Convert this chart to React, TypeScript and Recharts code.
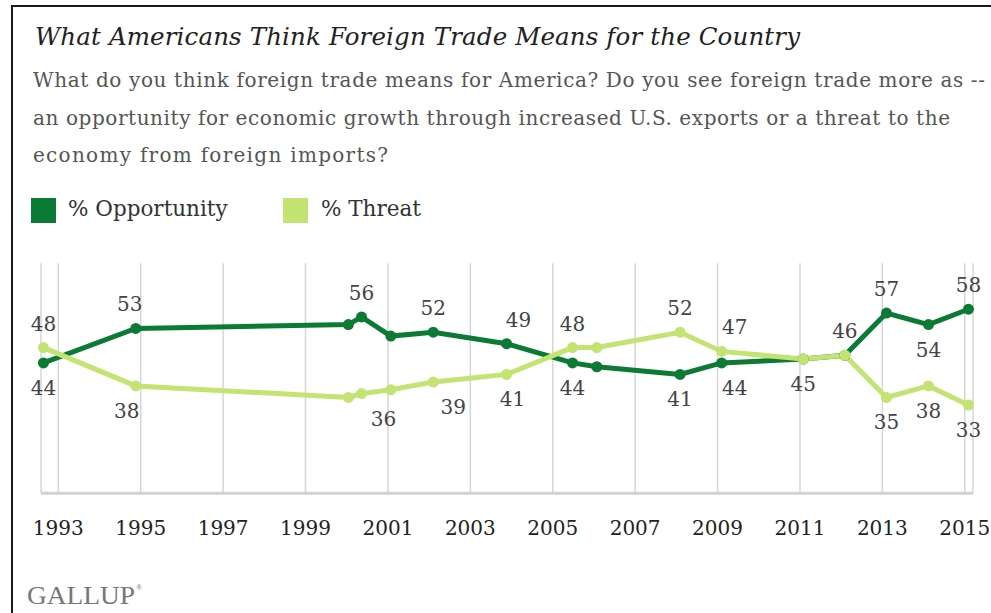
import React from 'react';
import { LineChart, Line, XAxis, YAxis, CartesianGrid, LabelList } from 'recharts';

// survey dates as fractional years
const pollDates = [1992.64, 1994.88, 2000.04, 2000.36, 2001.07, 2002.1, 2003.88, 2005.48, 2006.07, 2008.09, 2009.1, 2011.08, 2012.09, 2013.1, 2014.12, 2015.09];
const opportunity = [44, 53, 54, 56, 51, 52, 49, 44, 43, 41, 44, 45, 46, 57, 54, 58];
const threat = [48, 38, 35, 36, 37, 39, 41, 48, 48, 52, 47, 45, 46, 35, 38, 33];
const yearTicks = [1993, 1995, 1997, 1999, 2001, 2003, 2005, 2007, 2009, 2011, 2013, 2015];

const DARK = '#0b7a35';
const LIGHT = '#c3e373';
const SERIF = '"DejaVu Serif", serif';

// which points carry a value label, and on which side ('' = none)
const oppLabelSide = ['below', 'above', '', 'above', '', 'above', 'above', 'below', '', 'below', 'below', 'below', 'above', 'above', 'below', 'above'];
const threatLabelSide = ['above', 'below', '', 'below', '', 'below', 'below', 'above', '', 'above', 'above', '', '', 'below', 'below', 'below'];
// small sideways nudges for a few labels, keyed "series:index"
const labelNudge: Record<string, number> = {
  'o:1': -6, 't:1': -9, 't:3': 22, 't:5': 20, 't:6': 6, 'o:6': 12, 't:10': 13, 'o:10': 13,
};

const rows = pollDates.map((d, i) => ({ date: d, opportunity: opportunity[i], threat: threat[i] }));

const makeLabel = (sides: string[], key: string) => (p: any) => {
  const side = sides[p.index];
  if (!side) return null;
  const dx = labelNudge[`${key}:${p.index}`] || 0;
  const y = side === 'above' ? p.y - 17 : p.y + 32;
  return (
    <text x={p.x + dx} y={y} textAnchor="middle" fontFamily={SERIF} fontSize={20} fill="#444">
      {p.value}
    </text>
  );
};

const YearTick = (p: any) => (
  <text x={p.x} y={p.y + 42} textAnchor="middle" fontFamily={SERIF} fontSize={20} fill="#222">
    {p.payload.value}
  </text>
);

const subtitle = [
  'What do you think foreign trade means for America? Do you see foreign trade more as --',
  'an opportunity for economic growth through increased U.S. exports or a threat to the',
  'economy from foreign imports?',
];
const subtitleWidths = [952, 917, 355];

export default function App() {
  return (
    <div style={{ position: 'absolute', left: 0, top: 0, width: 991, height: 613, overflow: 'hidden', background: '#fff' }}>
      <svg width={991} height={613} style={{ position: 'absolute', left: 0, top: 0 }}>
        <path d="M12 613 V6 H991" fill="none" stroke="#1a1a1a" strokeWidth={2} />
        <text x={35} y={45} fontFamily={SERIF} fontStyle="italic" fontSize={24.5} fill="#222" textLength={765} lengthAdjust="spacing">
          What Americans Think Foreign Trade Means for the Country
        </text>
        {subtitle.map((line, i) => (
          <text key={i} x={33} y={87 + i * 37.5} fontFamily={SERIF} fontSize={20} fill="#555" textLength={subtitleWidths[i]} lengthAdjust="spacing">
            {line}
          </text>
        ))}
        <rect x={31} y={198} width={25} height={25} fill={DARK} />
        <text x={68} y={216} fontFamily={SERIF} fontSize={21.5} fill="#333">% Opportunity</text>
        <rect x={283} y={198} width={25} height={25} fill={LIGHT} />
        <text x={321} y={216} fontFamily={SERIF} fontSize={21.5} fill="#333">% Threat</text>
        <text x={27} y={604} fontFamily='"Liberation Serif", serif' fontSize={26} fill="#777" textLength={108} lengthAdjust="spacingAndGlyphs">
          GALLUP
        </text>
        <text x={136} y={590} fontFamily='"Liberation Serif", serif' fontSize={8} fill="#777">®</text>
      </svg>
      <div style={{ position: 'absolute', left: 0, top: 240 }}>
        <LineChart width={991} height={320} data={rows} margin={{ top: 23.2, right: 18, bottom: 26.7, left: 41 }}>
          <CartesianGrid horizontal={false} stroke="#d6d6d6" strokeWidth={1.5} />
          <XAxis
            dataKey="date"
            type="number"
            domain={[1992.58, 2015.2]}
            ticks={yearTicks}
            interval={0}
            axisLine={{ stroke: '#d2d2d2', strokeWidth: 3 }}
            tickLine={false}
            tickSize={0}
            tickMargin={0}
            height={40}
            tick={<YearTick />}
          />
          <YAxis hide domain={[10, 70]} />
          <Line
            dataKey="opportunity"
            stroke={DARK}
            strokeWidth={5}
            dot={{ r: 5.5, fill: DARK, stroke: DARK, strokeWidth: 0 }}
            isAnimationActive={false}
          >
            <LabelList dataKey="opportunity" content={makeLabel(oppLabelSide, 'o')} />
          </Line>
          <Line
            dataKey="threat"
            stroke={LIGHT}
            strokeWidth={5}
            dot={{ r: 5.5, fill: LIGHT, stroke: LIGHT, strokeWidth: 0 }}
            isAnimationActive={false}
          >
            <LabelList dataKey="threat" content={makeLabel(threatLabelSide, 't')} />
          </Line>
        </LineChart>
      </div>
    </div>
  );
}
